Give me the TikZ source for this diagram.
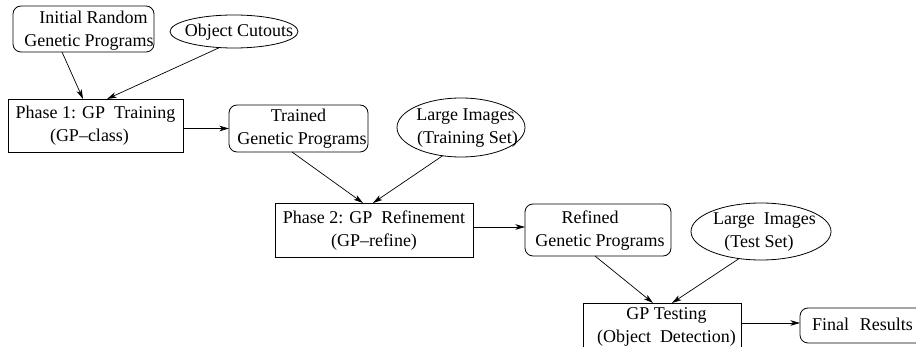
\documentclass[tikz,border=0pt]{standalone}
\usepackage{fontspec}
\setmainfont{Liberation Serif}
\usetikzlibrary{shapes.geometric,arrows.meta,calc}

% one text line, shifted sideways by half of the optional kern
\newcommand\tline[2][0pt]{\makebox[0pt]{\kern#1\relax#2}}
% centred block of lines that does not change the size of its node
\newcommand\ctext[2][0pt]{\smash{\makebox[0pt]{\raisebox{\dimexpr#1-0.25em\relax}{\begin{tabular}{@{}c@{}}#2\end{tabular}}}}}

\begin{document}
\begin{tikzpicture}[x=1pt,y=-1pt,
  font=\fontsize{18}{23}\selectfont,
  base/.style={draw=black, line width=0.8pt, inner sep=0pt, outer sep=0pt},
  procbox/.style={base, rectangle},
  databox/.style={base, rectangle, rounded corners=8pt},
  inputell/.style={base, ellipse},
  link/.style={-{Stealth[length=9.5pt,width=5.5pt,inset=2.5pt]}, line width=0.7pt}]

\useasboundingbox (0,0) rectangle (916,347);
\fill[white] (0,0) rectangle (916,347);
\clip (0,0) rectangle (916,347);

% phase 1
\node[databox, minimum width=141pt, minimum height=46pt] (init) at (83.5,29)
  {\ctext[-1pt]{\tline[20pt]{Initial Random}\\\tline[11pt]{Genetic Programs}}};
\node[inputell, minimum width=128pt, minimum height=33pt] (cut) at (234,31.5)
  {\ctext{\tline[10pt]{Object Cutouts}}};
\node[procbox, minimum width=175pt, minimum height=53pt] (p1) at (95.5,125.5)
  {\ctext[0.5pt]{Phase 1: GP\ \ Training\\\tline[-12pt]{(GP--class)}}};

% phase 2
\node[databox, minimum width=139pt, minimum height=47pt] (trained) at (298.5,128.5)
  {\ctext{Trained\\\tline[7pt]{Genetic Programs}}};
\node[inputell, minimum width=128pt, minimum height=59pt] (lit) at (461,127.5)
  {\ctext{\tline[9pt]{Large Images}\\\tline[13pt]{(Training Set)}}};
\node[procbox, minimum width=198pt, minimum height=54pt] (p2) at (374,230)
  {\ctext{Phase 2: GP\ \ Refinement\\(GP--refine)}};

% testing
\node[databox, minimum width=146pt, minimum height=52pt] (refined) at (598,230)
  {\ctext{\tline[-16pt]{Refined}\\\tline[4pt]{Genetic Programs}}};
\node[inputell, minimum width=140pt, minimum height=57pt] (lis) at (761,231.5)
  {\ctext{\tline[7pt]{Large\ \ Images}\\\tline[-4pt]{(Test Set)}}};
\node[procbox, minimum width=158pt, minimum height=54pt] (test) at (662,330)
  {\ctext[4pt]{\tline[9pt]{GP Testing}\\\tline[9pt]{(Object\ \ Detection)}}};
\node[databox, minimum width=130pt, minimum height=35pt] (final) at (865,325.5)
  {\ctext{\tline[-5pt]{Final\hspace{0.6em}Results}}};

% connectors
\draw[link] ([xshift=-21.5pt]init.south) -- ([xshift=-12.5pt]p1.north);
\draw[link] (cut.228) -- ([xshift=11.5pt]p1.north);
\draw[link] (p1.east |- trained.west) -- (trained.west);
\draw[link] ([xshift=-6.5pt]trained.south) -- ([xshift=-11pt]p2.north);
\draw[link] (lit.237) -- ([xshift=-1pt]p2.north);
\draw[link] ([yshift=3pt]p2.east) -- ([yshift=3pt]p2.east -| refined.west);
\draw[link] ([xshift=-3pt]refined.south) -- ([xshift=-9pt]test.north);
\draw[link] (lis.231) -- ([xshift=10pt]test.north);
\draw[link] ([yshift=2.5pt]final.west -| test.east) -- ([yshift=2.5pt]final.west);
\end{tikzpicture}
\end{document}
